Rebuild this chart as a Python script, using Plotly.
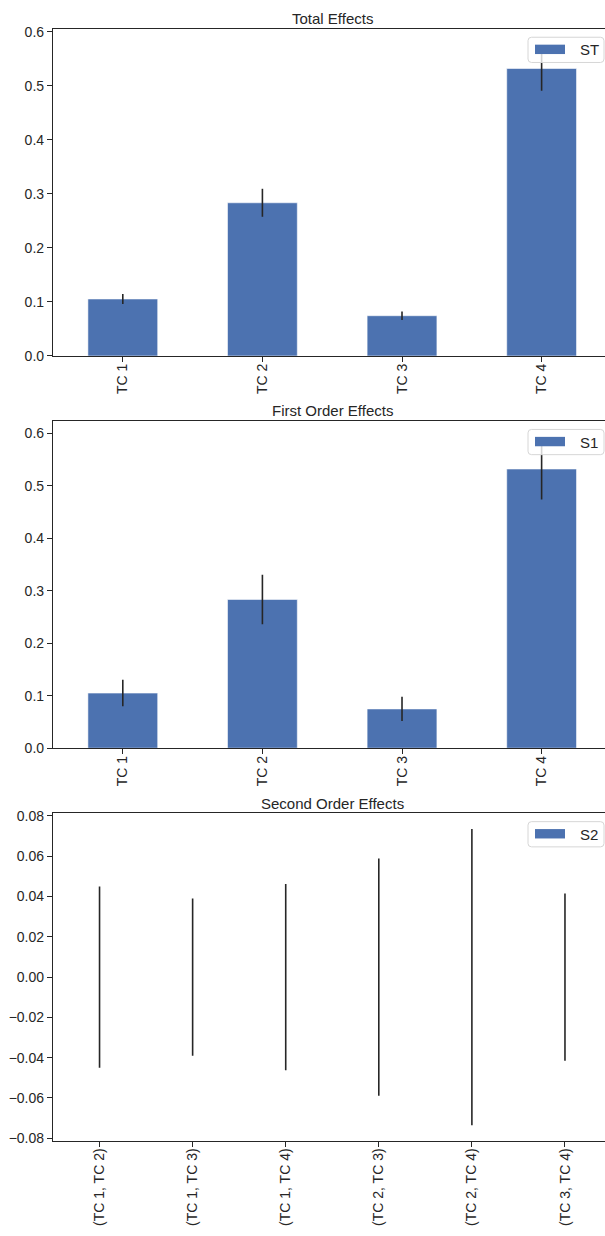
import plotly.graph_objects as go

# Sobol sensitivity indices and their confidence half-widths
params = ["TC 1", "TC 2", "TC 3", "TC 4"]
st = [0.1055, 0.2835, 0.0745, 0.532]
st_conf = [0.0092, 0.0259, 0.0077, 0.0412]
s1 = [0.105, 0.2834, 0.0748, 0.532]
s1_conf = [0.0252, 0.0471, 0.0230, 0.0583]
pairs = ["(TC 1, TC 2)", "(TC 1, TC 3)", "(TC 1, TC 4)",
         "(TC 2, TC 3)", "(TC 2, TC 4)", "(TC 3, TC 4)"]
s2 = [0.0, 0.0, 0.0, 0.0, 0.0, 0.0]
s2_conf = [0.0450, 0.0390, 0.0462, 0.0589, 0.0735, 0.0415]

W, H = 605, 1236
BAR = "#4c72b0"
INK = "#262626"
FONT = "Liberation Sans, Arial, sans-serif"


def px_x(x):
    return x / W


def px_y(y):
    # pixel row (from top) -> paper fraction
    return 1 - y / H


def rounded_box(x0, y0, x1, y1, r=3.5):
    # rounded rectangle path in paper coordinates, built from pixel bounds
    X = lambda v: f"{px_x(v):.5f}"
    Y = lambda v: f"{px_y(v):.5f}"
    return (
        f"M{X(x0 + r)},{Y(y0)} L{X(x1 - r)},{Y(y0)} "
        f"Q{X(x1)},{Y(y0)} {X(x1)},{Y(y0 + r)} "
        f"L{X(x1)},{Y(y1 - r)} Q{X(x1)},{Y(y1)} {X(x1 - r)},{Y(y1)} "
        f"L{X(x0 + r)},{Y(y1)} Q{X(x0)},{Y(y1)} {X(x0)},{Y(y1 - r)} "
        f"L{X(x0)},{Y(y0 + r)} Q{X(x0)},{Y(y0)} {X(x0 + r)},{Y(y0)} Z"
    )


panels = [
    dict(title="Total Effects", name="ST", x=params, y=st, err=st_conf,
         top=23.3, bottom=354.0, yr=[0, 0.605], dtick=0.1, fmt=".1f",
         xr=[-0.5, 3.454]),
    dict(title="First Order Effects", name="S1", x=params, y=s1, err=s1_conf,
         top=420.0, bottom=750.7, yr=[0, 0.623], dtick=0.1, fmt=".1f",
         xr=[-0.5, 3.454]),
    dict(title="Second Order Effects", name="S2", x=pairs, y=s2, err=s2_conf,
         top=816.7, bottom=1147.7, yr=[-0.0812, 0.0812], dtick=0.02, fmt=".2f",
         xr=[-0.5, 5.430]),
]

fig = go.Figure()
layout = dict(
    width=W, height=H,
    margin=dict(l=0, r=0, t=0, b=0),
    paper_bgcolor="white", plot_bgcolor="white",
    font=dict(family=FONT, size=14, color=INK),
    showlegend=False,
    annotations=[],
    shapes=[],
)

x_left = px_x(53.0)

for i, p in enumerate(panels):
    n = "" if i == 0 else str(i + 1)
    xa, ya = "x" + n, "y" + n

    fig.add_trace(go.Bar(
        x=p["x"], y=p["y"], width=0.5, name=p["name"],
        marker=dict(color=BAR,
                    line=dict(color="rgba(255,255,255,0.55)", width=1)),
        error_y=dict(type="data", array=p["err"], visible=True,
                     color=INK, thickness=1.6, width=0),
        xaxis=xa, yaxis=ya,
    ))

    layout["xaxis" + n] = dict(
        domain=[x_left, 1.0], anchor=ya, range=p["xr"],
        type="category", showline=True, linecolor=INK, linewidth=1.25,
        mirror=True, ticks="outside", ticklen=5, tickwidth=1.25,
        tickcolor=INK, tickangle=-90, ticklabelstandoff=-4,
        showgrid=False, zeroline=False,
        tickfont=dict(size=14, color=INK),
    )
    layout["yaxis" + n] = dict(
        domain=[px_y(p["bottom"]), px_y(p["top"])], anchor=xa, range=p["yr"],
        showline=True, linecolor=INK, linewidth=1.25, mirror=False,
        ticks="outside", ticklen=5, tickwidth=1.25, tickcolor=INK,
        dtick=p["dtick"], tick0=0, tickformat=p["fmt"],
        showgrid=False, zeroline=False,
        tickfont=dict(size=14, color=INK),
    )

    # subplot title
    layout["annotations"].append(dict(
        text=p["title"], x=px_x(332.0), xref="paper", y=px_y(p["top"] - 10.5),
        yref="paper", xanchor="center", yanchor="middle", showarrow=False,
        font=dict(size=15, color=INK, family=FONT),
    ))

    # legend box in the upper-right corner of the axes
    lx0, lx1 = 528.0, 604.0
    ly0 = p["top"] + 8.3
    ly1 = ly0 + 25.5
    layout["shapes"].append(dict(
        type="path", xref="paper", yref="paper", layer="above",
        path=rounded_box(lx0, ly0, lx1, ly1),
        fillcolor="rgba(255,255,255,0.8)",
        line=dict(color="#d6d6d6", width=1),
    ))
    layout["shapes"].append(dict(
        type="rect", xref="paper", yref="paper", layer="above",
        x0=px_x(lx0 + 7), x1=px_x(lx0 + 37),
        y0=px_y(ly0 + 7.5), y1=px_y(ly0 + 17),
        fillcolor=BAR, line=dict(width=0),
    ))
    layout["annotations"].append(dict(
        text=p["name"], x=px_x(lx0 + 50), xref="paper",
        y=px_y(ly0 + 12.7), yref="paper", xanchor="left", yanchor="middle",
        showarrow=False, font=dict(size=15, color=INK, family=FONT),
    ))

fig.update_layout(**layout)
fig.write_html("out.html")
